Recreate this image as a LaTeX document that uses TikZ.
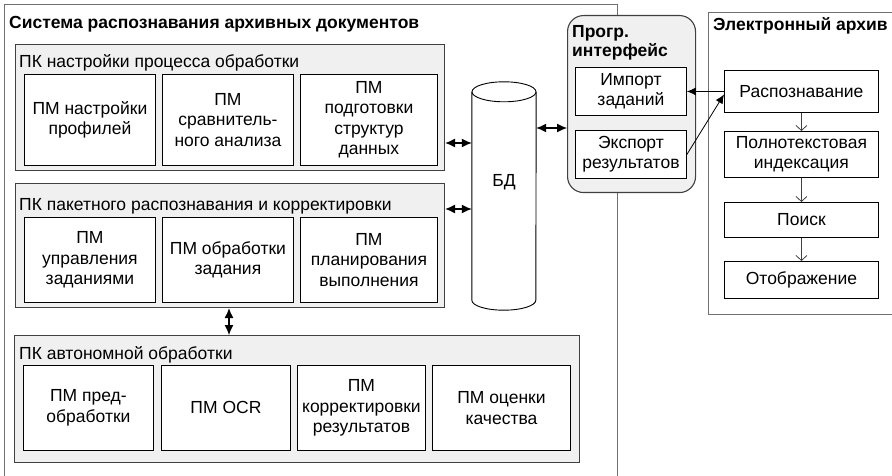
\documentclass[tikz,border=0pt]{standalone}
\usepackage{fontspec}
\setmainfont{Liberation Sans}
\usetikzlibrary{positioning, arrows.meta}

\definecolor{panelfill}{HTML}{F0F0F0}
\definecolor{paneldraw}{HTML}{404040}
\definecolor{framedraw}{HTML}{707070}

\tikzset{
  frame/.style={draw=framedraw, line width=1pt, anchor=north west, inner sep=0pt},
  panel/.style={draw=paneldraw, fill=panelfill, line width=1.1pt, anchor=north west, inner sep=0pt},
  module/.style={draw=black, fill=white, line width=0.9pt, align=center, anchor=north west, inner sep=0pt},
  caption/.style={anchor=base west, inner sep=0pt},
  both/.style={{Latex[length=10pt,width=9pt]}-{Latex[length=10pt,width=9pt]}, line width=1.1pt},
  single/.style={-{Latex[length=9pt,width=8pt]}, line width=0.8pt},
  flow/.style={-{Straight Barb[length=5pt,width=11pt]}, draw=paneldraw, line width=0.8pt},
}

\begin{document}
\begin{tikzpicture}[x=1pt, y=-1pt, font=\fontsize{17.5pt}{20.5pt}\selectfont]

    \path[use as bounding box, clip] (0,0) rectangle (892,476);

    % outer frames
    \node[frame, minimum width=613pt, minimum height=520pt] (sys) at (4,4) {};
    \node[caption, font=\fontsize{17.5pt}{20.5pt}\selectfont\bfseries] (systitle) at (9,28.5) {Система распознавания архивных документов};
    \node[frame, minimum width=220pt, minimum height=302pt] (earch) at (708,12) {};
    \node[caption, font=\fontsize{17.5pt}{20.5pt}\selectfont\bfseries] (earchtitle) at (713,31) {Электронный архив};

    % PK 1
    \node[panel, minimum width=429pt, minimum height=126pt] (cfg) at (15,44) {};
    \node[caption] (cfgtitle) at (19,68) {ПК настройки процесса обработки};
    \node[module, minimum width=131pt, minimum height=91pt] (m11) at (24,74) {ПМ настройки\\профилей};
    \node[module, minimum width=131pt, minimum height=91pt] (m12) at (162,74) {ПМ\\сравнитель-\\ного анализа};
    \node[module, minimum width=137pt, minimum height=91pt] (m13) at (300,74) {ПМ\\подготовки\\структур\\данных};

    % PK 2
    \node[panel, minimum width=429pt, minimum height=124pt] (batch) at (15,183) {};
    \node[caption] (batchtitle) at (19,211) {ПК пакетного распознавания и корректировки};
    \node[module, minimum width=131pt, minimum height=85pt] (m21) at (24,217) {ПМ\\управления\\заданиями};
    \node[module, minimum width=131pt, minimum height=85pt] (m22) at (162,217) {ПМ обработки\\задания};
    \node[module, minimum width=137pt, minimum height=85pt] (m23) at (300,217) {ПМ\\планирования\\выполнения};

    % PK 3
    \node[panel, minimum width=565pt, minimum height=127pt] (auto) at (14,335) {};
    \node[caption] (autotitle) at (19,359) {ПК автономной обработки};
    \node[module, minimum width=130pt, minimum height=85pt] (m31) at (23,365) {ПМ пред-\\обработки};
    \node[module, minimum width=129pt, minimum height=85pt] (m32) at (161,365) {ПМ OCR};
    \node[module, minimum width=128pt, minimum height=85pt] (m33) at (297,365) {ПМ\\корректировки\\результатов};
    \node[module, minimum width=138pt, minimum height=85pt] (m34) at (432,365) {ПМ оценки\\качества};

    % database
    \node[minimum width=64pt, minimum height=208pt, inner sep=0pt] (bd) at (504,196) {};
    \draw[line width=0.9pt, fill=white] (bd.north west) -- (bd.south west)
        arc[start angle=180, end angle=360, x radius=32pt, y radius=10pt] -- (bd.north east);
    \draw[line width=0.9pt, fill=white] (bd.north) ellipse [x radius=32pt, y radius=10pt];
    \node[inner sep=0pt] (bdtext) at ([yshift=14pt]bd.center) {БД};

    % interface
    \node[panel, rounded corners=16pt, minimum width=128pt, minimum height=177pt] (api) at (567,15) {};
    \node[anchor=north west, inner sep=0pt, align=left, font=\fontsize{17.5pt}{19pt}\selectfont\bfseries] (apititle) at (572,25.5) {Прогр.\\интерфейс};
    \node[module, minimum width=111pt, minimum height=48pt] (imp) at (575,67) {Импорт\\заданий};
    \node[module, minimum width=111pt, minimum height=48pt] (exp) at (575,130) {Экспорт\\результатов};

    % archive chain
    \node[module, minimum width=154pt, minimum height=42pt] (recog) at (724,70) {Распознавание};
    \node[module, minimum width=154pt, minimum height=46pt] (index) at (724,131) {Полнотекстовая\\индексация};
    \node[module, minimum width=154pt, minimum height=35pt] (search) at (724,202) {Поиск};
    \node[module, minimum width=154pt, minimum height=37pt] (disp) at (724,261) {Отображение};

    % Connections
    \draw[both] (cfg.east |- 0,143) -- (bd.west |- 0,143);
    \draw[both] (batch.east |- 0,209) -- (bd.west |- 0,209);
    \draw[both] (batch.south -| 229,0) -- (auto.north -| 229,0);
    \draw[both] (bd.east |- 0,128) -- (api.west |- 0,128);
    \draw[single] (recog.west) -- (imp.east);
    \draw[single] (exp.east) -- ([yshift=-3pt]recog.west);
    \draw[flow] (recog) -- (index);
    \draw[flow] (index) -- (search);
    \draw[flow] (search) -- (disp);
\end{tikzpicture}
\end{document}
